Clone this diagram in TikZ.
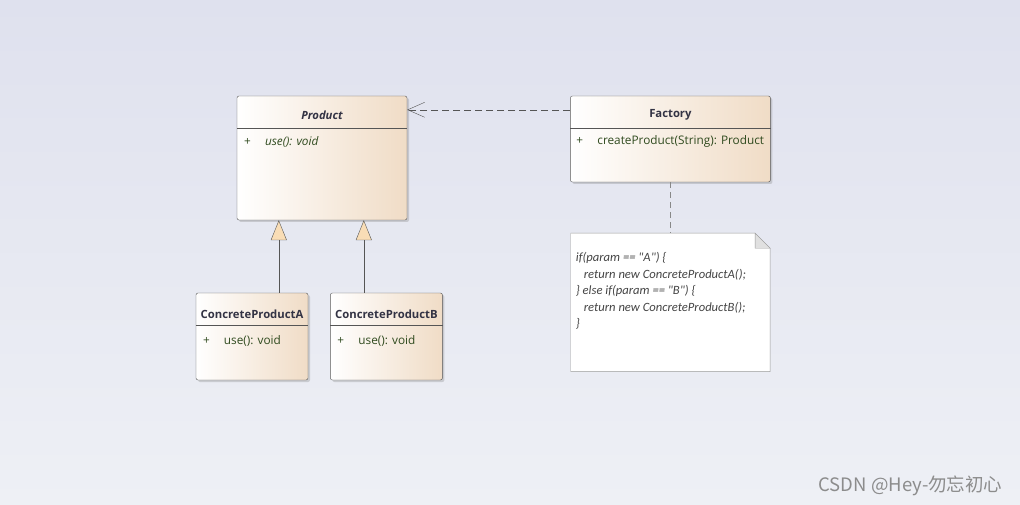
\documentclass[tikz,border=0pt]{standalone}
\usepackage{fontspec}
\setmainfont{Open Sans}
\newfontfamily\notefont{Carlito}
\newfontfamily\cjkfont{Noto Sans CJK SC}
\usetikzlibrary{positioning,arrows.meta,shadows}

\definecolor{bgtop}{HTML}{DFE1EE}
\definecolor{bgbot}{HTML}{EEF0F5}
\definecolor{boxline}{HTML}{555555}
\definecolor{clsright}{HTML}{F0DCC6}
\definecolor{headtext}{HTML}{333344}
\definecolor{membertext}{HTML}{2F4A1E}
\definecolor{notetext}{HTML}{444444}
\definecolor{triangle}{HTML}{F9DDB6}

\tikzset{
  umlclass/.style={draw=boxline, rounded corners=2pt, left color=white,
    right color=clsright, inner sep=0pt,
    drop shadow={opacity=.3, shadow xshift=2pt, shadow yshift=-2pt}},
  classname/.style={font=\fontsize{11.3}{14}\selectfont\bfseries, text=headtext},
  member/.style={anchor=west, inner sep=0pt, text=membertext},
  inherit/.style={draw=boxline, -{Triangle[length=20pt, width=16pt, fill=triangle]}},
  depends/.style={draw=boxline, dashed, dash pattern=on 7pt off 4pt,
    -{Straight Barb[length=17pt, width=15pt]}},
  notelink/.style={draw=boxline!70, dashed, dash pattern=on 6pt off 4pt},
  notebox/.style={draw=black!40, fill=white},
  dogear/.style={draw=black!40, fill=black!12},
  notetext/.style={font=\notefont\itshape\fontsize{12.6}{16.5}\selectfont,
    text=notetext, align=left, inner sep=0pt},
}

\begin{document}
\begin{tikzpicture}[x=1pt, y=-1pt, font=\fontsize{11.8}{14}\selectfont]
  \useasboundingbox (0,0) rectangle (1020,505);
  \shade[top color=bgtop, bottom color=bgbot] (0,0) rectangle (1020,505);

  % classes
  \node (Product) [umlclass, minimum width=170pt, minimum height=124pt] at (322,158) {};
  \node (Factory) [umlclass, minimum width=200pt, minimum height=86pt,
    right=163pt of Product.north east, anchor=north west] {};
  \node (ProductA) [umlclass, minimum width=112pt, minimum height=87pt] at (252,336.5) {};
  \node (ProductB) [umlclass, minimum width=112pt, minimum height=87pt,
    right=22pt of ProductA] {};

  \foreach \cls in {Product, Factory, ProductA, ProductB}
    \draw[boxline] ([yshift=-32pt]\cls.north west) -- ([yshift=-32pt]\cls.north east);

  \node (ProductName) [classname] at ([yshift=-19pt]Product.north) {\itshape Product};
  \node (FactoryName) [classname] at ([yshift=-19pt]Factory.north) {Factory};
  \node (ProductAName) [classname] at ([yshift=-21pt]ProductA.north) {ConcreteProductA};
  \node (ProductBName) [classname] at ([yshift=-21pt]ProductB.north) {ConcreteProductB};

  \node (ProductUse) [member] at ([xshift=7pt, yshift=-46pt]Product.north west)
    {\makebox[21pt][l]{+}\itshape use(): void};
  \node (FactoryCreate) [member] at ([xshift=6pt, yshift=-46pt]Factory.north west)
    {\makebox[21pt][l]{+}createProduct(String): Product};
  \node (ProductAUse) [member] at ([xshift=7pt, yshift=-48pt]ProductA.north west)
    {\makebox[21pt][l]{+}use(): void};
  \node (ProductBUse) [member] at ([xshift=7pt, yshift=-48pt]ProductB.north west)
    {\makebox[21pt][l]{+}use(): void};

  % note
  \node (Note) [minimum width=199pt, minimum height=138pt, below=51pt of Factory] {};
  \draw[notebox] (Note.north west) -- ([xshift=-15pt]Note.north east)
    -- ([yshift=-15pt]Note.north east) -- (Note.south east) -- (Note.south west) -- cycle;
  \draw[dogear] ([xshift=-15pt]Note.north east) -- ([xshift=-15pt, yshift=-15pt]Note.north east)
    -- ([yshift=-15pt]Note.north east) -- cycle;
  \node (NoteText) [notetext, anchor=north west] at ([xshift=5pt, yshift=-19pt]Note.north west)
    {if(param == "A") \{\\
     \hspace*{8pt}return new ConcreteProductA();\\
     \} else if(param == "B") \{\\
     \hspace*{8pt}return new ConcreteProductB();\\
     \}};

  % connectors
  \coordinate (FootA) at ([xshift=42pt]Product.south west);
  \coordinate (FootB) at ([xshift=127pt]Product.south west);
  \draw[inherit] (ProductA.north -| FootA) -- (FootA);
  \draw[inherit] (ProductB.north -| FootB) -- (FootB);
  \draw[depends] ([yshift=-14pt]Factory.north west) -- ([yshift=-14pt]Product.north east);
  \draw[notelink] (Factory.south) -- (Note.north);

  \node (Mark) [anchor=east, text=black!45, font=\cjkfont\fontsize{18.5}{22}\selectfont]
    at (1006,486) {CSDN @Hey-勿忘初心};
\end{tikzpicture}
\end{document}
